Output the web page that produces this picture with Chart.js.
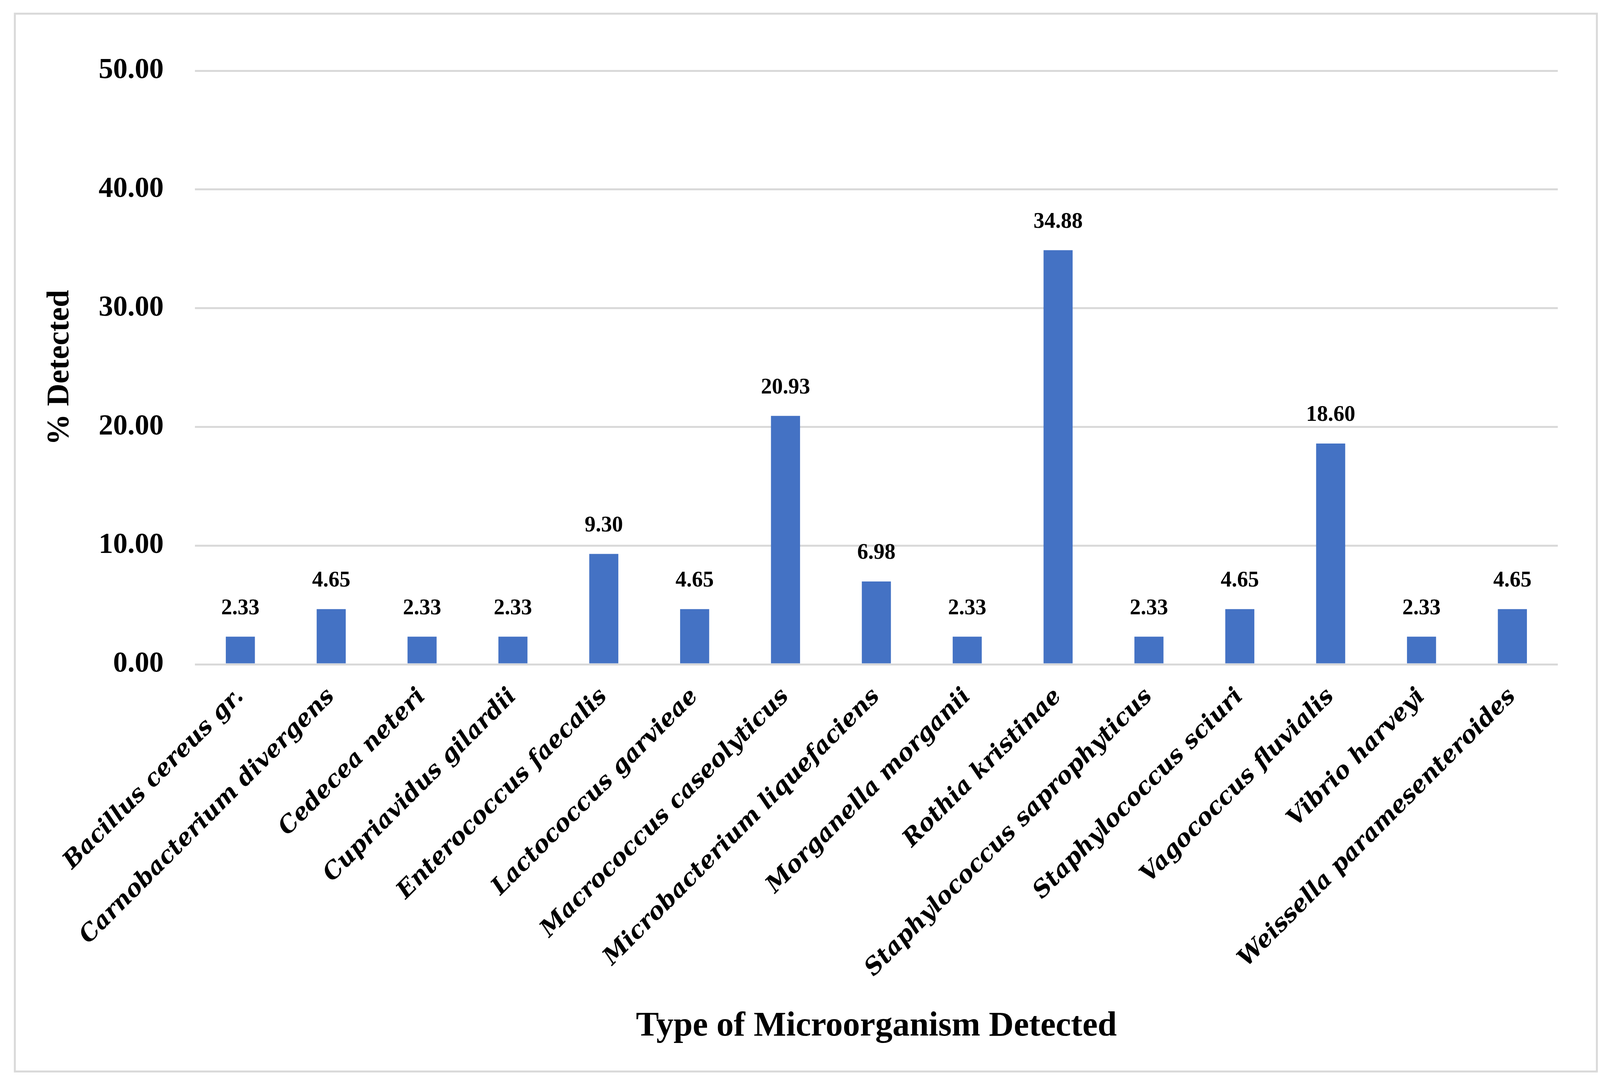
<!DOCTYPE html>
<html>
<head>
<meta charset="utf-8">
<script src="https://cdn.jsdelivr.net/npm/chart.js@4.4.1/dist/chart.umd.min.js"></script>
<style>
	html, body { margin: 0; padding: 0; background: #fff; }
	#wrap { width: 4120px; height: 2774px; }
</style>
</head>
<body>
<div id="wrap"><canvas id="myChart" width="4120" height="2774"></canvas></div>
<script>
	const organisms = [
		'Bacillus cereus gr.',
		'Carnobacterium divergens',
		'Cedecea neteri',
		'Cupriavidus gilardii',
		'Enterococcus faecalis',
		'Lactococcus garvieae',
		'Macrococcus caseolyticus',
		'Microbacterium liquefaciens',
		'Morganella morganii',
		'Rothia kristinae',
		'Staphylococcus saprophyticus',
		'Staphylococcus sciuri',
		'Vagococcus fluvialis',
		'Vibrio harveyi',
		'Weissella paramesenteroides'
	];
	const detected = [2.33, 4.65, 2.33, 2.33, 9.30, 4.65, 20.93, 6.98, 2.33, 34.88, 2.33, 4.65, 18.60, 2.33, 4.65];
	const yMin = 0;
	const yMax = 50;
	const yStep = 10;

	const serif = '"Liberation Serif", "Times New Roman", serif';

	// light grey frame round the whole figure
	const frame = {
		id: 'frame',
		beforeDraw(chart) {
			const ctx = chart.ctx;
			ctx.save();
			ctx.fillStyle = '#ffffff';
			ctx.fillRect(0, 0, chart.width, chart.height);
			ctx.strokeStyle = '#d9d9d9';
			ctx.lineWidth = 5;
			ctx.strokeRect(38, 35, 4088 - 38, 2742 - 35);
			ctx.restore();
		}
	};

	// value printed above each bar
	const barLabels = {
		id: 'barLabels',
		afterDatasetsDraw(chart) {
			const ctx = chart.ctx;
			const meta = chart.getDatasetMeta(0);
			ctx.save();
			ctx.font = 'bold 56px ' + serif;
			ctx.fillStyle = '#000';
			ctx.textAlign = 'center';
			ctx.textBaseline = 'middle';
			meta.data.forEach((bar, i) => {
				ctx.fillText(detected[i].toFixed(2), bar.x, bar.y - 72);
			});
			ctx.restore();
		}
	};

	const ctx = document.getElementById('myChart');

	new Chart(ctx, {
		type: 'bar',
		data: {
			labels: organisms,
			datasets: [{
				data: detected,
				backgroundColor: '#4472c4',
				borderWidth: 0,
				barPercentage: 0.32,
				categoryPercentage: 1
			}]
		},
		options: {
			responsive: false,
			animation: false,
			devicePixelRatio: 1,
			layout: {
				padding: { top: 181, left: 0, right: 132, bottom: 0 }
			},
			plugins: {
				legend: { display: false },
				tooltip: { enabled: false }
			},
			scales: {
				x: {
					grid: { display: false },
					border: { display: false },
					ticks: {
						color: '#000',
						autoSkip: false,
						minRotation: 45,
						maxRotation: 45,
						padding: 40,
						font: { family: '"DejaVu Serif", serif', size: 60, weight: 'bold', style: 'italic' }
					},
					title: {
						display: true,
						text: 'Type of Microorganism Detected',
						color: '#000',
						font: { family: serif, size: 88, weight: 'bold' },
						padding: { top: 0, bottom: 94 }
					},
					afterFit(scale) {
						scale.height = 2774 - 1700;
					}
				},
				y: {
					min: yMin,
					max: yMax,
					grid: {
						color: '#d9d9d9',
						lineWidth: 5,
						drawTicks: false
					},
					border: { display: false },
					ticks: {
						stepSize: yStep,
						color: '#000',
						padding: 80,
						font: { family: serif, size: 74, weight: 'bold' },
						callback: function(value) {
							return value.toFixed(2);
						}
					},
					title: {
						display: true,
						text: '% Detected',
						color: '#000',
						font: { family: serif, size: 80, weight: 'bold' },
						padding: { top: 106, bottom: 0 }
					},
					afterFit(scale) {
						scale.width = 499;
					}
				}
			}
		},
		plugins: [frame, barLabels]
	});
</script>
</body>
</html>
